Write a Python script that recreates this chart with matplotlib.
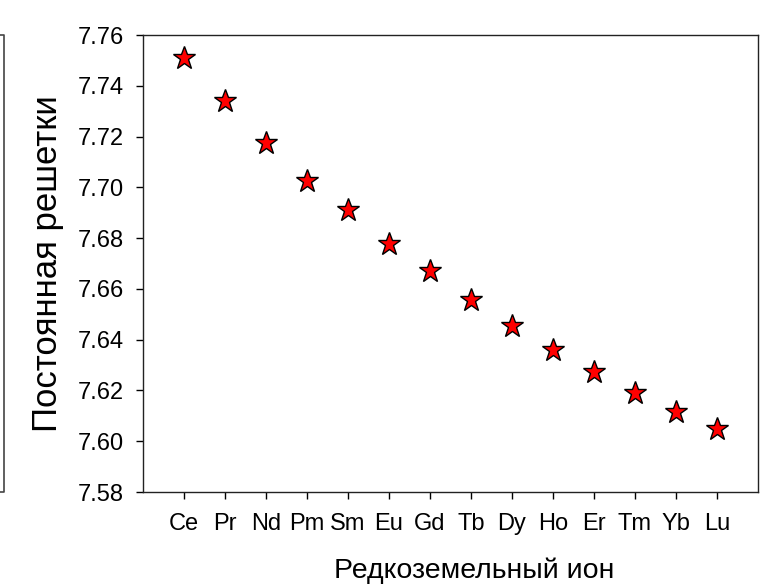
import matplotlib
matplotlib.use("Agg")
import matplotlib.pyplot as plt
from matplotlib.lines import Line2D

ions = ["Ce", "Pr", "Nd", "Pm", "Sm", "Eu", "Gd", "Tb", "Dy", "Ho", "Er", "Tm", "Yb", "Lu"]
lattice = [7.751, 7.734, 7.7175, 7.7025, 7.691, 7.6777, 7.667, 7.6555, 7.6454, 7.636,
           7.6273, 7.619, 7.6115, 7.605]
yticks = [7.58, 7.60, 7.62, 7.64, 7.66, 7.68, 7.70, 7.72, 7.74, 7.76]

plt.rcParams['font.family'] = ['Liberation Sans', 'DejaVu Sans']

W, H = 784, 586
fig = plt.figure(figsize=(W / 100, H / 100), dpi=100)
left, right, top, bottom = 143, 758, 35, 492
ax = fig.add_axes([left / W, 1 - bottom / H, (right - left) / W, (bottom - top) / H])

x = list(range(1, len(ions) + 1))
ax.plot(x, lattice, linestyle='none', marker='*', markersize=17,
        markerfacecolor='#ff0000', markeredgecolor='black', markeredgewidth=1.0)

ax.set_xlim(0, len(ions) + 1)
ax.set_ylim(7.58, 7.76)
ax.set_xticks(x)
ax.set_xticklabels(ions)
ax.set_yticks(yticks)
ax.set_yticklabels([f"{v:.2f}" for v in yticks])
ax.tick_params(direction='out', length=5, width=1, labelsize=17, colors='black')
ax.tick_params(axis='x', pad=10)
ax.tick_params(axis='y', pad=9)
for s in ax.spines.values():
    s.set_linewidth(1.0)
    s.set_color('#222222')

ax.set_xlabel("Редкоземельный ион", fontsize=20.5)
ax.set_ylabel("Постоянная решетки", fontsize=25)
ax.xaxis.set_label_coords((474 - left) / (right - left), 1 - (578 - top) / (bottom - top),
                          transform=ax.transAxes)
ax.xaxis.label.set_va('baseline')
ax.yaxis.set_label_coords(-(left - 48) / (right - left), 0.5, transform=ax.transAxes)
ax.yaxis.label.set_va('center')

# Edge of the neighbouring panel at the far left
fx = 3.5 / W
fig.add_artist(Line2D([0, fx, fx, 0], [1 - top / H, 1 - top / H, 1 - bottom / H, 1 - bottom / H],
                      transform=fig.transFigure, color='#444444', linewidth=1.2))

fig.savefig("out.png", dpi=100)
